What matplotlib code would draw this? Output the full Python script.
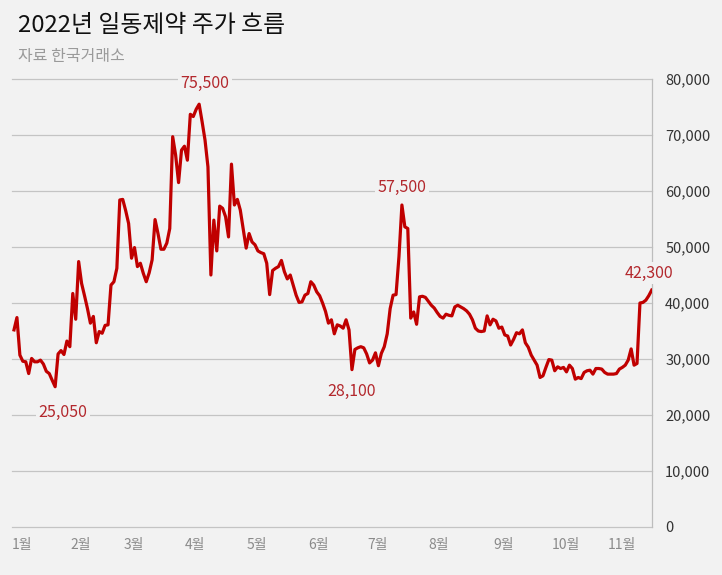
import matplotlib
matplotlib.use("Agg")
import matplotlib.pyplot as plt

plt.rcParams['font.family'] = ['Noto Sans CJK KR', 'DejaVu Sans']

# Daily closing prices (KRW), 2022 trading days from Jan 3
prices = [
    35200, 37400, 30700, 29600, 29500, 27400, 30100, 29500, 29500, 29800,
    29100, 27800, 27400, 26200, 25050, 30900, 31500, 30800, 33200, 32200,
    41700, 37100, 47400, 43500, 41300, 39000, 36400, 37600, 32900, 34900,
    34600, 36000, 36100, 43200, 43800, 46200, 58400, 58500, 56500, 54200,
    48000, 49900, 46500, 47100, 45300, 43800, 45400, 47700, 54900, 52400,
    49600, 49600, 50700, 53300, 69700, 66400, 61500, 67300, 68000, 65500,
    73700, 73300, 74600, 75500, 72400, 69100, 64300, 45000, 54800, 49300,
    57300, 56900, 55400, 51800, 64800, 57500, 58500, 56600, 53200, 49800,
    52400, 50900, 50400, 49300, 49000, 48800, 47100, 41500, 45800, 46200,
    46500, 47600, 45600, 44300, 45000, 43200, 41400, 40100, 40200, 41400,
    41700, 43800, 43200, 42000, 41300, 40000, 38500, 36400, 37000, 34500,
    36100, 35900, 35500, 37000, 35200, 28100, 31700, 32000, 32200, 32000,
    30900, 29300, 29800, 31100, 28800, 31000, 32200, 34500, 39000, 41400,
    41500, 48300, 57500, 53600, 53300, 37300, 38400, 36200, 41100, 41200,
    41000, 40300, 39600, 39100, 38300, 37600, 37300, 38000, 37800, 37700,
    39300, 39600, 39300, 39000, 38600, 38000, 37000, 35500, 35000, 34900,
    35000, 37700, 36100, 37100, 36800, 35500, 35700, 34300, 34100, 32500,
    33500, 34700, 34500, 35200, 32900, 32100, 30700, 29800, 28900, 26700,
    27000, 28500, 29900, 29800, 27900, 28600, 28300, 28500, 27700, 28900,
    28300, 26400, 26700, 26500, 27600, 27900, 28000, 27300, 28300, 28300,
    28200, 27600, 27300, 27300, 27300, 27400, 28200, 28500, 28900, 29800,
    31800, 28900, 29200, 40000, 40100, 40500, 41300, 42300,
]

month_labels = ["1월", "2월", "3월", "4월", "5월", "6월", "7월", "8월", "9월", "10월", "11월"]
month_start_idx = [0, 20, 38, 59, 80, 101, 121, 142, 164, 184, 203]

y_ticks = [0, 10000, 20000, 30000, 40000, 50000, 60000, 70000, 80000]

# annotated points: (index, offset_x px, offset_y px)
annot_idx = [63, 14, 132, 115, 217]
annot_off = [(6, 21), (8, -26), (0, 18), (0, -22), (-3, 17)]

title = "2022년 일동제약 주가 흐름"
subtitle = "자료 한국거래소"

W, H = 722, 575
bg = "#f2f2f2"
fig = plt.figure(figsize=(W / 100, H / 100), dpi=100, facecolor=bg)

left, right, top, bottom = 12, 652, 79, 527
ax = fig.add_axes([left / W, 1 - bottom / H, (right - left) / W, (bottom - top) / H])
ax.set_facecolor(bg)

x = list(range(len(prices)))
ax.plot(x, prices, color="#c00000", lw=2.3, solid_joinstyle="round", zorder=3)

ax.set_ylim(0, 80000)
ax.set_xlim(-0.68, len(prices) - 1 + 0.1)

for s in ["top", "left", "bottom"]:
    ax.spines[s].set_visible(False)
ax.spines["right"].set_color("#bdbdbd")
ax.spines["right"].set_linewidth(0.9)

ax.yaxis.tick_right()
ax.set_yticks(y_ticks)
ax.set_yticklabels([f"{v:,}" for v in y_ticks])
ax.tick_params(axis="y", length=0, pad=9.5, labelsize=10.5, labelcolor="#333333")
for v in y_ticks:
    ax.axhline(v, color="#c4c4c4", lw=0.9, clip_on=False, zorder=1)
ax.set_xticks([])

for lab, idx in zip(month_labels, month_start_idx):
    ax.annotate(lab, xy=(idx, 0), xycoords=("data", "axes fraction"),
                xytext=(-2.5, -18), textcoords="offset pixels",
                ha="left", va="center", fontsize=10, color="#8a8a8a",
                annotation_clip=False)

for idx, (ox, oy) in zip(annot_idx, annot_off):
    ax.annotate(f"{prices[idx]:,}", xy=(idx, prices[idx]), xytext=(ox, oy),
                textcoords="offset pixels", ha="center", va="center",
                fontsize=11.5, color="#b3282d", zorder=5, annotation_clip=False,
                bbox=dict(boxstyle="square,pad=0.15", fc=bg, ec="none"))

fig.text(18 / W, 1 - 25 / H, title, fontsize=17.2, color="#111111",
         ha="left", va="center")
fig.text(18 / W, 1 - 57 / H, subtitle, fontsize=11.5, color="#9a9a9a",
         ha="left", va="center")

fig.savefig("out.png", dpi=100, facecolor=bg)
